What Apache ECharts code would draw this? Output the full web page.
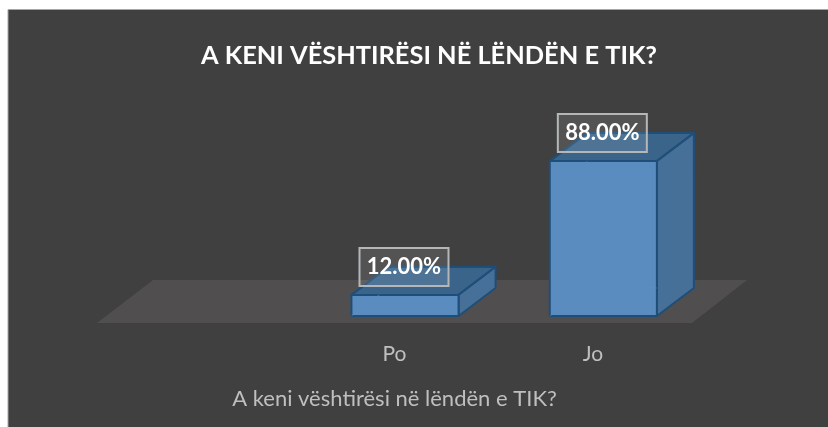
<!DOCTYPE html>
<html>
<head>
<meta charset="utf-8">
<style>html,body{margin:0;padding:0;background:#fff}#c{width:828px;height:427px}</style>
<script src="https://cdn.jsdelivr.net/npm/echarts@6/dist/echarts.min.js"></script>
</head>
<body>
<div id="c"></div>
<script>
const categories = ['', 'Po', 'Jo'];
const barValues = [null, 12, 88];
const titleText = 'A KENI VËSHTIRËSI NË LËNDËN E TIK?';
const axisTitle = 'A keni vështirësi në lëndën e TIK?';

const FONT = 'Lato';
const DX = 37, DY = 28;
const lineC = '#1f4e79';

function renderFloor(params, api) {
  const g = params.coordSys;
  const y0 = g.y + g.height;
  return {
    type: 'polygon', silent: true,
    shape: { points: [[g.x, y0 + 7], [g.x + 56, y0 - 36], [g.x + g.width + 55, y0 - 36], [g.x + g.width, y0 + 7]] },
    style: { fill: '#504e4f' }
  };
}

function renderBar(params, api) {
  const p = api.coord([api.value(0), api.value(1)]);
  const b = api.coord([api.value(0), 0]);
  const w = api.size([1, 0])[0] * 0.54;
  const l = p[0] + 10.5 - w / 2, r = l + w, t = p[1], bt = b[1];
  const edge = { stroke: lineC, lineWidth: 2, lineJoin: 'round' };
  const inner = { stroke: '#5a90c6', lineWidth: 1, fill: null, opacity: 0.6 };
  return {
    type: 'group',
    children: [
      { type: 'polygon', shape: { points: [[l, t], [l + DX, t - DY], [r + DX, t - DY], [r, t]] }, style: { fill: '#3a648a', ...edge } },
      { type: 'polygon', shape: { points: [[r, t], [r + DX, t - DY], [r + DX, bt - DY], [r, bt]] }, style: { fill: '#467098', ...edge } },
      { type: 'rect', shape: { x: l, y: t, width: w, height: bt - t }, style: { fill: '#5a8cbf', ...edge } },
      { type: 'polyline', shape: { points: [[l, bt], [l + Math.min(DX, (bt - t) * DX / DY), bt - Math.min(DY, bt - t)]] }, style: inner },
      ...(bt - t > DY ? [
        { type: 'line', shape: { x1: l + DX, y1: t, x2: l + DX, y2: bt - DY }, style: inner },
        { type: 'line', shape: { x1: l + DX, y1: bt - DY, x2: r, y2: bt - DY }, style: inner }
      ] : []),
      { type: 'rect', shape: { x: p[0] + 9.5 - 44.5, y: t - 47, width: 89, height: 38 },
        style: { fill: 'rgba(255,255,255,0.1)', stroke: '#b4b6b8', lineWidth: 2 } },
      { type: 'text', x: p[0] + 9.5, y: t - 28,
        style: { text: api.value(1).toFixed(2) + '%', fill: '#fff', font: 'bold 22px ' + FONT, align: 'center', verticalAlign: 'middle' } }
    ]
  };
}

const chart = echarts.init(document.getElementById('c'), null, { renderer: 'canvas' });
chart.setOption({
  animation: false,
  backgroundColor: '#fff',
  graphic: [{ type: 'rect', z: -10, silent: true,
    shape: { x: 8, y: 9.5, width: 830, height: 430 },
    style: { fill: '#404040', stroke: '#a6a6a6', lineWidth: 1 } }],
  title: { text: titleText, left: 424, top: 38, textAlign: 'center',
    textStyle: { color: '#fff', fontFamily: FONT, fontWeight: 'bold', fontSize: 25.4 } },
  grid: { left: 97, top: 140, width: 595, height: 176 },
  xAxis: { type: 'category', data: categories,
    axisLine: { show: false }, axisTick: { show: false }, splitLine: { show: false },
    axisLabel: { color: '#bfbfbf', fontFamily: FONT, fontSize: 21, margin: 28 },
    name: axisTitle, nameLocation: 'middle', nameGap: 72,
    nameTextStyle: { color: '#bfbfbf', fontFamily: FONT, fontSize: 22 } },
  yAxis: { type: 'value', min: 0, max: 100, show: false },
  series: [
    { type: 'custom', name: 'floor', data: [[0, 0]], renderItem: renderFloor, clip: false, z: 1, silent: true },
    { type: 'custom', name: 'bars', data: barValues.map((v, i) => [i, v]).filter(d => d[1] !== null),
      encode: { x: 0, y: 1 }, renderItem: renderBar, clip: false, z: 2 }
  ]
});
</script>
</body>
</html>
